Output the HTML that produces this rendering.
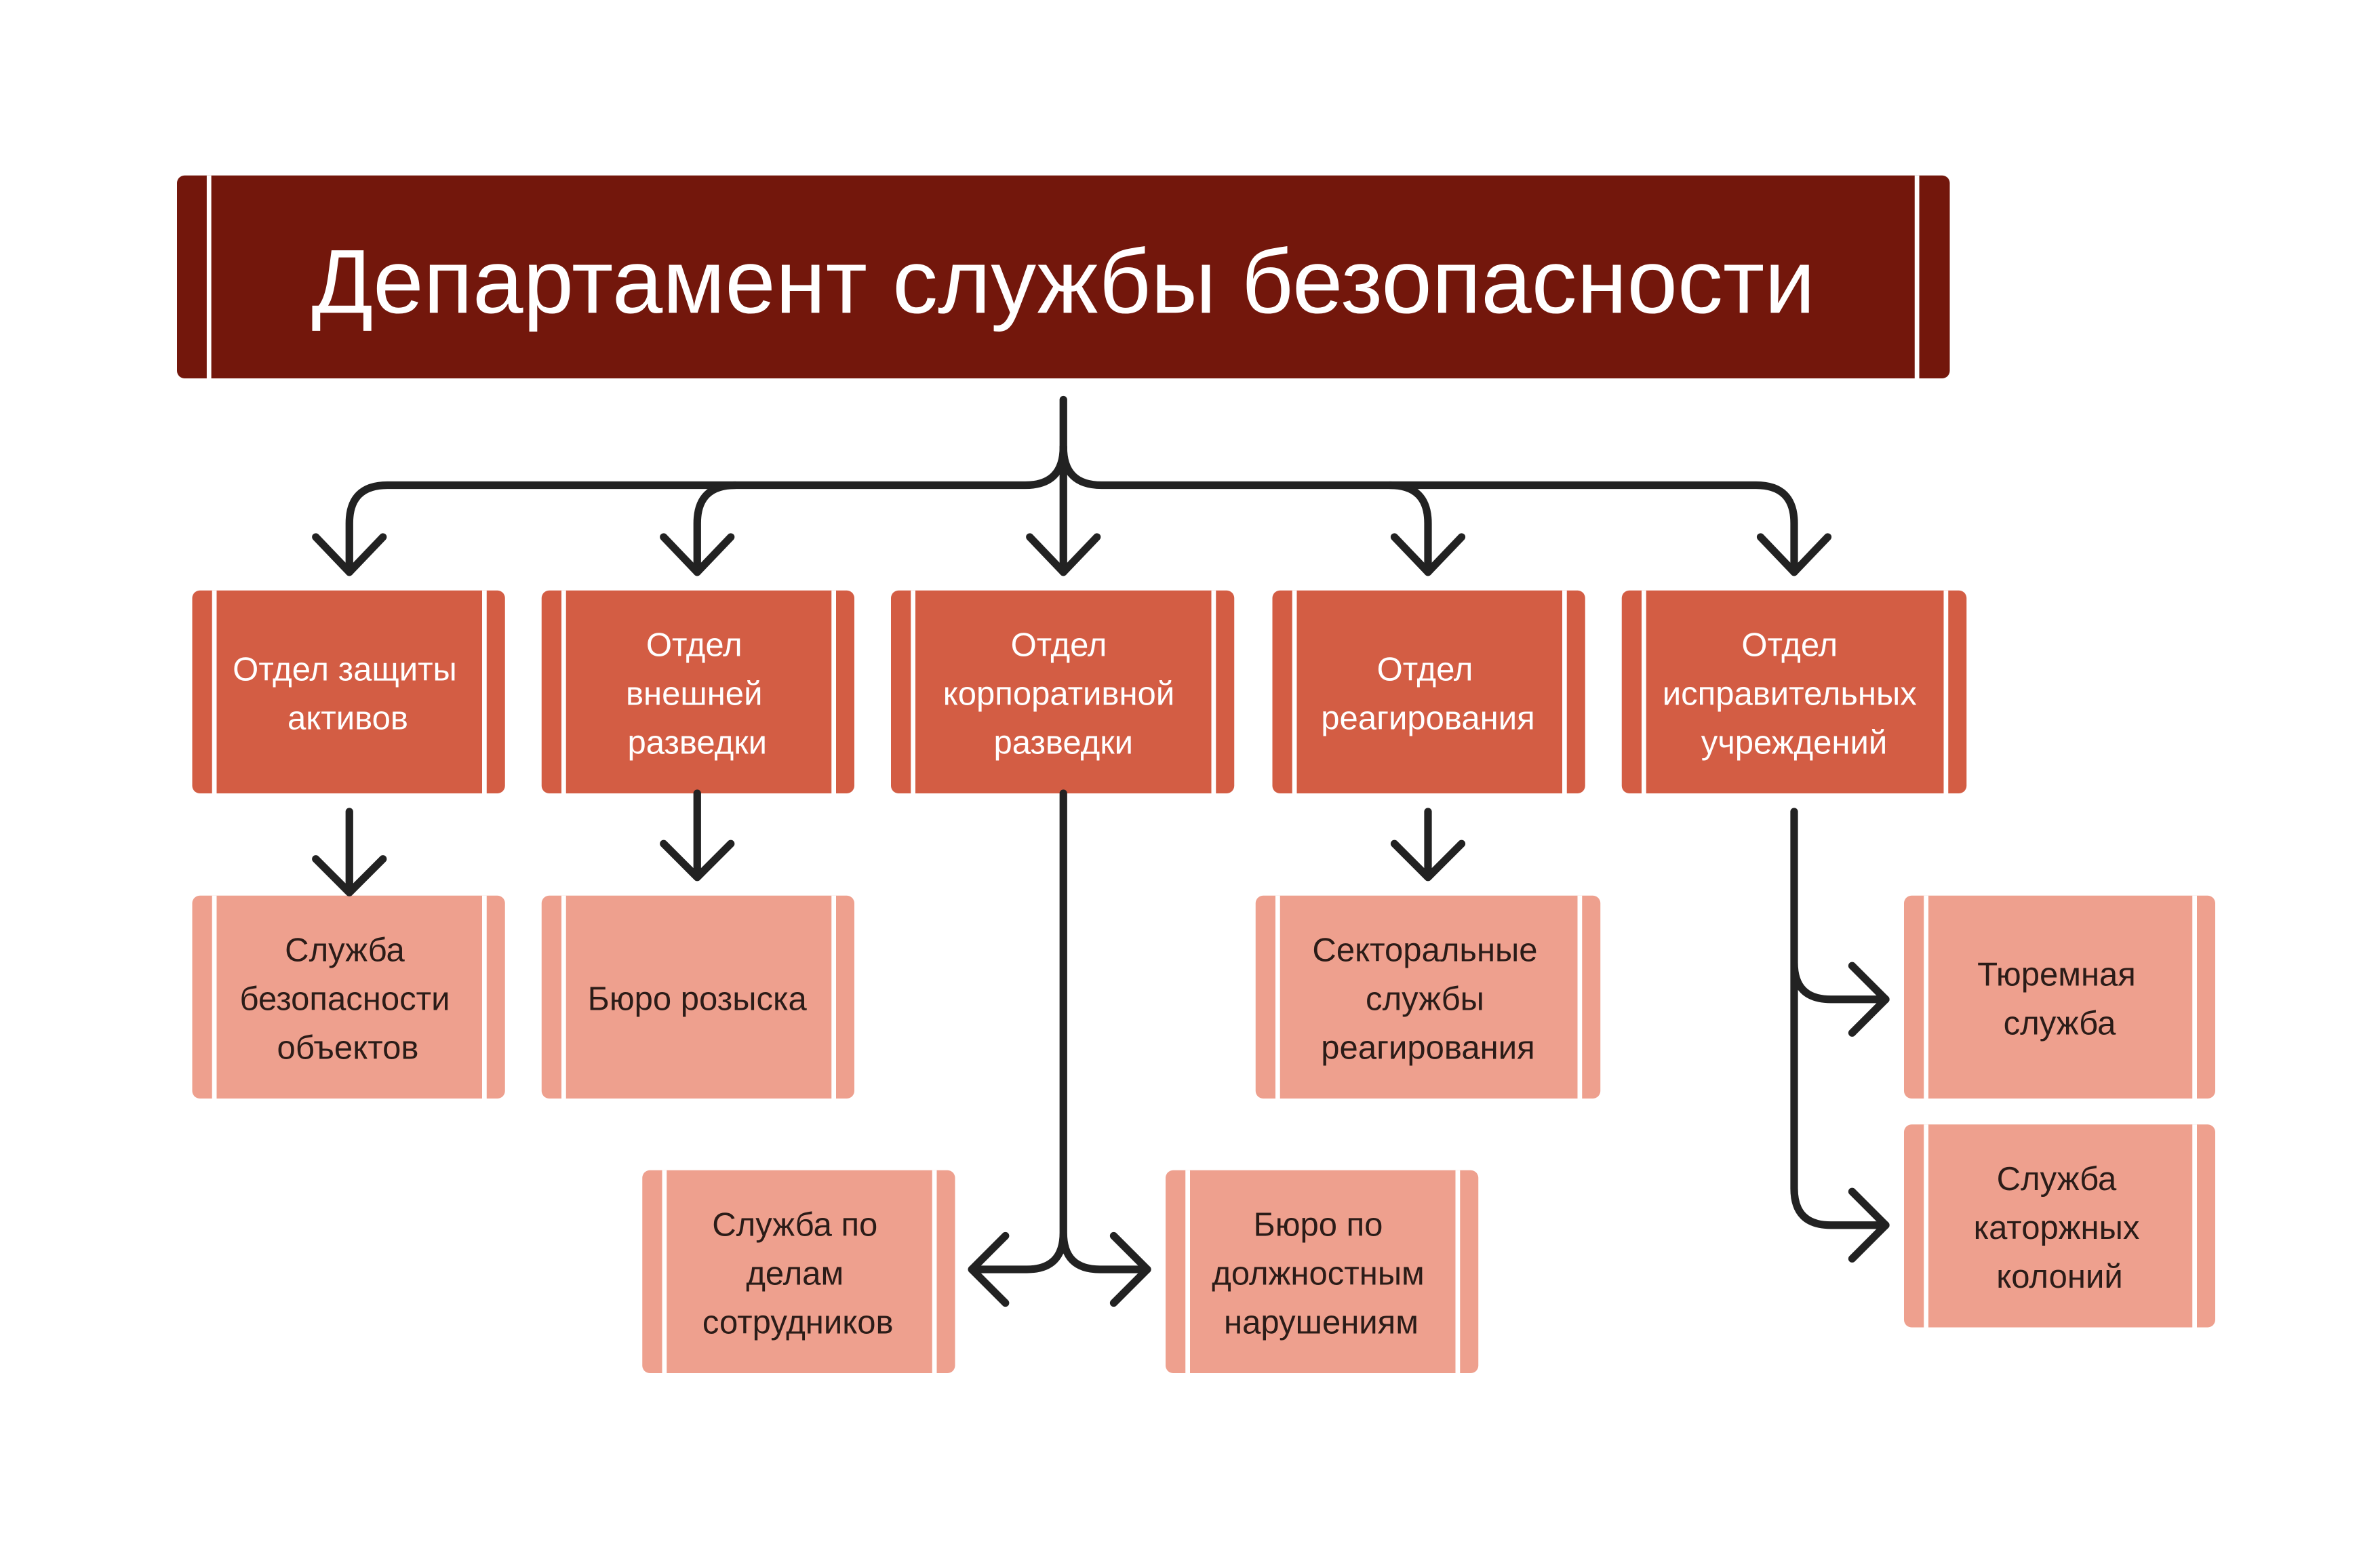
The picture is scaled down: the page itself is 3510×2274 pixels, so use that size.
<!DOCTYPE html>
<html><head><meta charset="utf-8"><style>
html,body{margin:0;padding:0;background:#fff}
svg{display:block}
text{font-family:"Liberation Sans","DejaVu Sans",sans-serif;text-anchor:middle}
.w{fill:#fff;font-size:21.8px;font-weight:500}
.d{fill:#2b1c18;font-size:21.8px;font-weight:500}
</style></head><body>
<svg width="3510" height="2274" viewBox="0 0 1560 1010.67" xmlns="http://www.w3.org/2000/svg">
<rect width="1560" height="1011" fill="#fff"/>
<rect x="116" y="115" width="1162" height="133" rx="5" fill="#73170c"/>
<rect x="135.5" y="115" width="3" height="133" fill="#fff"/>
<rect x="1255" y="115" width="3" height="133" fill="#fff"/>
<text x="697" y="205" fill="#fff" font-size="59.5">Департамент службы безопасности</text>

<g fill="#d35d44">
<rect x="126" y="387" width="205" height="133" rx="5"/>
<rect x="355" y="387" width="205" height="133" rx="5"/>
<rect x="584" y="387" width="225" height="133" rx="5"/>
<rect x="834" y="387" width="205" height="133" rx="5"/>
<rect x="1063" y="387" width="226" height="133" rx="5"/>
</g>
<g fill="#eea08e">
<rect x="126" y="587" width="205" height="133" rx="5"/>
<rect x="355" y="587" width="205" height="133" rx="5"/>
<rect x="823" y="587" width="226" height="133" rx="5"/>
<rect x="1248" y="587" width="204" height="133" rx="5"/>
<rect x="1248" y="737" width="204" height="133" rx="5"/>
<rect x="421" y="767" width="205" height="133" rx="5"/>
<rect x="764" y="767" width="205" height="133" rx="5"/>
</g>
<g fill="#fff">
<rect x="139" y="387" width="3" height="133"/><rect x="316" y="387" width="3" height="133"/>
<rect x="368" y="387" width="3" height="133"/><rect x="545" y="387" width="3" height="133"/>
<rect x="597" y="387" width="3" height="133"/><rect x="794" y="387" width="3" height="133"/>
<rect x="847" y="387" width="3" height="133"/><rect x="1024" y="387" width="3" height="133"/>
<rect x="1076" y="387" width="3" height="133"/><rect x="1274" y="387" width="3" height="133"/>
<rect x="139" y="587" width="3" height="133"/><rect x="316" y="587" width="3" height="133"/>
<rect x="368" y="587" width="3" height="133"/><rect x="545" y="587" width="3" height="133"/>
<rect x="836" y="587" width="3" height="133"/><rect x="1034" y="587" width="3" height="133"/>
<rect x="1261" y="587" width="3" height="133"/><rect x="1437" y="587" width="3" height="133"/>
<rect x="1261" y="737" width="3" height="133"/><rect x="1437" y="737" width="3" height="133"/>
<rect x="434" y="767" width="3" height="133"/><rect x="611" y="767" width="3" height="133"/>
<rect x="777" y="767" width="3" height="133"/><rect x="954" y="767" width="3" height="133"/>
</g>

<text class="w" x="226" y="446">Отдел защиты</text><text class="w" x="228" y="478">активов</text>
<text class="w" x="455" y="430">Отдел</text><text class="w" x="455" y="462">внешней</text><text class="w" x="457" y="494">разведки</text>
<text class="w" x="694" y="430">Отдел</text><text class="w" x="694" y="462">корпоративной</text><text class="w" x="697" y="494">разведки</text>
<text class="w" x="934" y="446">Отдел</text><text class="w" x="936" y="478">реагирования</text>
<text class="w" x="1173" y="430">Отдел</text><text class="w" x="1173" y="462">исправительных</text><text class="w" x="1176" y="494">учреждений</text>

<text class="d" x="226" y="630">Служба</text><text class="d" x="226" y="662">безопасности</text><text class="d" x="228" y="694">объектов</text>
<text class="d" x="457" y="662">Бюро розыска</text>
<text class="d" x="934" y="630">Секторальные</text><text class="d" x="934" y="662">службы</text><text class="d" x="936" y="694">реагирования</text>
<text class="d" x="1348" y="646">Тюремная</text><text class="d" x="1350" y="678">служба</text>
<text class="d" x="1348" y="780">Служба</text><text class="d" x="1348" y="812">каторжных</text><text class="d" x="1350" y="844">колоний</text>
<text class="d" x="521" y="810">Служба по</text><text class="d" x="521" y="842">делам</text><text class="d" x="523" y="874">сотрудников</text>
<text class="d" x="864" y="810">Бюро по</text><text class="d" x="864" y="842">должностным</text><text class="d" x="866" y="874">нарушениям</text>

<g fill="none" stroke="#222" stroke-width="5" stroke-linecap="round" stroke-linejoin="round">
<path d="M697,262 V375"/>
<path d="M697,293 Q697,318 672,318 H254 Q229,318 229,343 V375"/>
<path d="M482,318 Q457,318 457,343 V375"/>
<path d="M697,293 Q697,318 722,318 H1151 Q1176,318 1176,343 V375"/>
<path d="M911,318 Q936,318 936,343 V375"/>
<path d="M207,352 L229,375 L251,352"/>
<path d="M435,352 L457,375 L479,352"/>
<path d="M675,352 L697,375 L719,352"/>
<path d="M914,352 L936,375 L958,352"/>
<path d="M1154,352 L1176,375 L1198,352"/>
<path d="M229,532 V585 M207,563 L229,585 L251,563"/>
<path d="M457,520 V575 M435,553 L457,575 L479,553"/>
<path d="M936,532 V575 M914,553 L936,575 L958,553"/>
<path d="M697,520 V808 Q697,832 673,832 H637 M697,808 Q697,832 721,832 H752"/>
<path d="M659,810 L637,832 L659,854 M730,810 L752,832 L730,854"/>
<path d="M1176,532 V779 Q1176,803 1200,803 H1236 M1176,631 Q1176,655 1200,655 H1236"/>
<path d="M1214,633 L1236,655 L1214,677 M1214,781 L1236,803 L1214,825"/>
</g>
</svg>
</body></html>
